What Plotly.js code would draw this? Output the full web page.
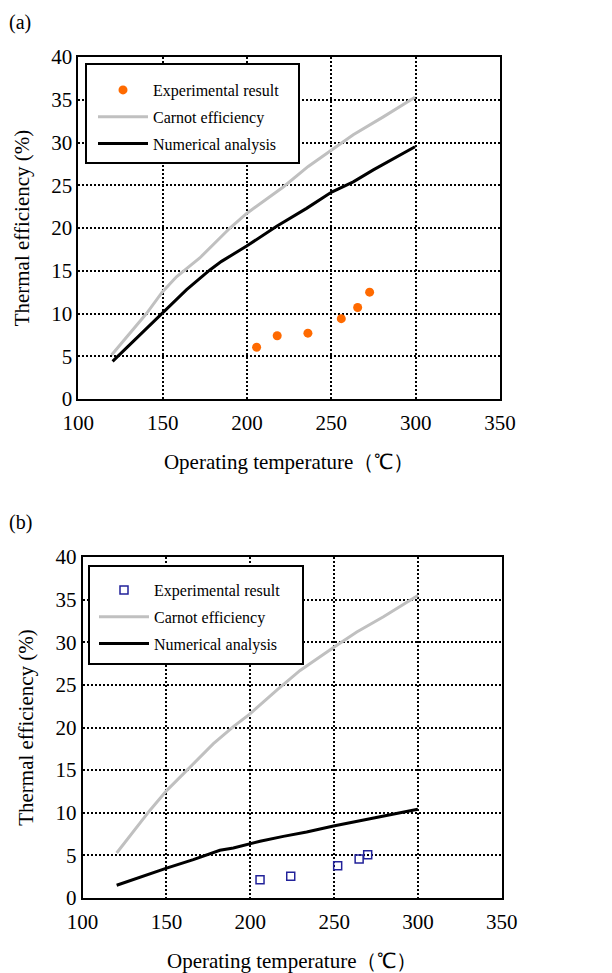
<!DOCTYPE html>
<html>
<head>
<meta charset="utf-8">
<script src="https://cdn.plot.ly/plotly-3.0.1.min.js"></script>
<style>html,body{margin:0;padding:0;background:#fff;}#chart{width:612px;height:973px;}</style>
</head>
<body>
<div id="chart"></div>
<script>
// Panel (a)
const carnotA_T = [119.7, 140.4, 149.7, 158.2, 172, 189.9, 199.8, 221.5, 236.3, 250.2, 263, 280.8, 299.6];
const carnotA_E = [5.15, 10.0, 12.5, 14.3, 16.5, 20.0, 21.7, 24.8, 27.2, 29.1, 30.9, 33.0, 35.3];
const numA_T = [120.3, 135.5, 149.7, 164.2, 178, 184.9, 199.8, 217.6, 235.3, 250.2, 263, 274.9, 299.6];
const numA_E = [4.4, 7.3, 10.1, 12.8, 15.1, 16.1, 17.9, 20.2, 22.3, 24.2, 25.4, 26.8, 29.5];
const expA_T = [205.7, 217.9, 236.1, 255.9, 265.6, 272.7];
const expA_E = [6.05, 7.4, 7.7, 9.4, 10.7, 12.5];
// Panel (b)
const carnotB_T = [120.3, 140.2, 150.1, 164, 178, 189.9, 199.8, 215.8, 229.7, 249.6, 263.5, 279.4, 299.9];
const carnotB_E = [5.28, 10.3, 12.6, 15.4, 18.1, 20.1, 21.6, 24.4, 26.7, 29.4, 31.2, 33.0, 35.5];
const numB_T = [120.3, 134.2, 150.1, 166, 181.9, 189.9, 199.8, 205.8, 219.7, 233.6, 249.6, 269.5, 299.9];
const numB_E = [1.49, 2.46, 3.5, 4.5, 5.6, 5.87, 6.37, 6.65, 7.23, 7.74, 8.45, 9.19, 10.4];
const expB_T = [205.8, 224.1, 252.1, 264.9, 270.0];
const expB_E = [2.15, 2.54, 3.79, 4.57, 5.08];

const xTicks = [100, 150, 200, 250, 300, 350];
const yTicks = [0, 5, 10, 15, 20, 25, 30, 35, 40];
const names = ["Experimental result", "Carnot efficiency", "Numerical analysis"];
const panelLabels = ["(a)", "(b)"];
const xTitle = "Operating temperature\uFF08\u2103\uFF09";
const yTitle = "Thermal efficiency (%)";

const FONT = "Liberation Serif, Times New Roman, serif";

const traces = [
  {x: expA_T, y: expA_E, name: names[0], mode: "markers", type: "scatter", legendgroup: "a0",
   marker: {color: "#ff6a00", size: 9, symbol: "circle"}, xaxis: "x", yaxis: "y", legend: "legend"},
  {x: carnotA_T, y: carnotA_E, name: names[1], mode: "lines", type: "scatter", legendgroup: "a1",
   line: {color: "#c0c0c0", width: 3}, xaxis: "x", yaxis: "y", legend: "legend"},
  {x: numA_T, y: numA_E, name: names[2], mode: "lines", type: "scatter", legendgroup: "a2",
   line: {color: "#000000", width: 3}, xaxis: "x", yaxis: "y", legend: "legend"},
  {x: expB_T, y: expB_E, name: names[0], mode: "markers", type: "scatter", legendgroup: "b0",
   marker: {color: "#22229a", size: 8, symbol: "square-open", line: {color: "#22229a", width: 1.5}},
   xaxis: "x2", yaxis: "y2", legend: "legend2"},
  {x: carnotB_T, y: carnotB_E, name: names[1], mode: "lines", type: "scatter", legendgroup: "b1",
   line: {color: "#c0c0c0", width: 3}, xaxis: "x2", yaxis: "y2", legend: "legend2"},
  {x: numB_T, y: numB_E, name: names[2], mode: "lines", type: "scatter", legendgroup: "b2",
   line: {color: "#000000", width: 3}, xaxis: "x2", yaxis: "y2", legend: "legend2"}
];

function xax(domain, anchor) {
  return {domain: domain, anchor: anchor, range: [100, 350], tickvals: xTicks, ticktext: xTicks.map(String),
    showline: true, linecolor: "#000", linewidth: 2, mirror: true,
    showgrid: true, gridcolor: "#000", griddash: "2px,2px", gridwidth: 2,
    zeroline: false, ticks: "", ticklabelstandoff: 4, tickfont: {family: FONT, size: 21, color: "#000"},
    title: {text: xTitle, font: {family: FONT, size: 21, color: "#000"}, standoff: 20}, automargin: false};
}
function yax(domain, anchor) {
  return {domain: domain, anchor: anchor, range: [0, 40], tickvals: yTicks, ticktext: yTicks.map(String),
    showline: true, linecolor: "#000", linewidth: 2, mirror: true,
    showgrid: true, gridcolor: "#000", griddash: "2px,2px", gridwidth: 2,
    zeroline: false, ticks: "", tickfont: {family: FONT, size: 21, color: "#000"},
    title: {text: yTitle, font: {family: FONT, size: 21, color: "#000"}, standoff: 16}, automargin: false};
}
function leg(xpx, ypx) {
  return {x: xpx / 612, y: 1 - ypx / 973, xanchor: "left", yanchor: "top", bgcolor: "rgba(0,0,0,0)",
    borderwidth: 0, font: {family: FONT, size: 16, color: "#000"}, itemwidth: 50, tracegroupgap: 3};
}
function box(x0, y0, x1, y1) {
  return {type: "rect", xref: "paper", yref: "paper", x0: x0 / 612, x1: x1 / 612, y0: 1 - y1 / 973, y1: 1 - y0 / 973,
    fillcolor: "#fff", line: {color: "#000", width: 2}, layer: "above"};
}

const layout = {
  width: 612, height: 973, margin: {l: 0, r: 0, t: 0, b: 0},
  paper_bgcolor: "#fff", plot_bgcolor: "#fff", font: {family: FONT, color: "#000"},
  xaxis: xax([0.128, 0.817], "y"),
  yaxis: yax([0.5899, 0.9414], "x"),
  xaxis2: xax([0.135, 0.820], "y2"),
  yaxis2: yax([0.0771, 0.4275], "x2"),
  legend: leg(93, 73),
  legend2: leg(94, 573),
  shapes: [box(86, 64, 299, 163), box(89, 566, 303, 664)],
  annotations: [
    {text: panelLabels[0], xref: "paper", yref: "paper", x: 0.012, y: 1 - 22/973, xanchor: "left", yanchor: "middle",
     showarrow: false, font: {family: FONT, size: 20, color: "#000"}},
    {text: panelLabels[1], xref: "paper", yref: "paper", x: 0.012, y: 1 - 522/973, xanchor: "left", yanchor: "middle",
     showarrow: false, font: {family: FONT, size: 20, color: "#000"}}
  ],
  showlegend: true
};

Plotly.newPlot("chart", traces, layout, {staticPlot: true, displayModeBar: false});
</script>
</body>
</html>
